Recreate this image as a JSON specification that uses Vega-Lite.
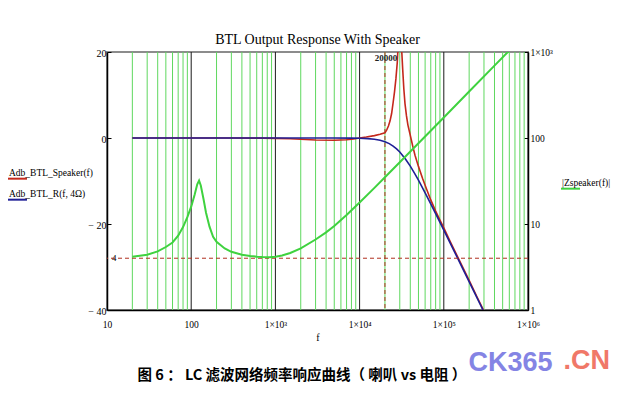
{
  "$schema": "https://vega.github.io/schema/vega-lite/v6.json",
  "width": 421,
  "height": 258,
  "autosize": {"type": "none"},
  "padding": {"left": 107, "top": 52, "right": 97, "bottom": 89},
  "background": "white",
  "title": {"text": "BTL Output Response With Speaker", "font": "Liberation Serif", "fontSize": 14, "fontWeight": "normal", "color": "#000", "anchor": "middle", "frame": "group", "baseline": "alphabetic", "offset": 9, "dy": 20},
  "config": {
    "view": {"stroke": "#8c8c8c", "strokeWidth": 2},
    "axis": {"labelFont": "Liberation Serif", "labelColor": "#000", "titleColor": "#000", "domainColor": "#000", "tickColor": "#000", "grid": false}
  },
  "datasets": {
    "minor": [{"f":20},{"f":30},{"f":40},{"f":50},{"f":60},{"f":70},{"f":80},{"f":90},
      {"f":200},{"f":300},{"f":400},{"f":500},{"f":600},{"f":700},{"f":800},{"f":900},
      {"f":2000},{"f":3000},{"f":4000},{"f":5000},{"f":6000},{"f":7000},{"f":8000},{"f":9000},
      {"f":20000},{"f":30000},{"f":40000},{"f":50000},{"f":60000},{"f":70000},{"f":80000},{"f":90000},
      {"f":200000},{"f":300000},{"f":400000},{"f":500000},{"f":600000},{"f":700000},{"f":800000},{"f":900000}],
    "major": [{"f":100},{"f":1000},{"f":10000},{"f":100000}],
    "amp": [
      {"series":"Adb_BTL_Speaker(f)","f":20,"db":0},
      {"series":"Adb_BTL_Speaker(f)","f":100,"db":0},
      {"series":"Adb_BTL_Speaker(f)","f":300,"db":0},
      {"series":"Adb_BTL_Speaker(f)","f":700,"db":-0.03},
      {"series":"Adb_BTL_Speaker(f)","f":1000,"db":-0.08},
      {"series":"Adb_BTL_Speaker(f)","f":1500,"db":-0.18},
      {"series":"Adb_BTL_Speaker(f)","f":2000,"db":-0.3},
      {"series":"Adb_BTL_Speaker(f)","f":3000,"db":-0.45},
      {"series":"Adb_BTL_Speaker(f)","f":5000,"db":-0.52},
      {"series":"Adb_BTL_Speaker(f)","f":7000,"db":-0.42},
      {"series":"Adb_BTL_Speaker(f)","f":8500,"db":-0.22},
      {"series":"Adb_BTL_Speaker(f)","f":10000,"db":0},
      {"series":"Adb_BTL_Speaker(f)","f":12000,"db":0.22},
      {"series":"Adb_BTL_Speaker(f)","f":15000,"db":0.55},
      {"series":"Adb_BTL_Speaker(f)","f":17500,"db":0.85},
      {"series":"Adb_BTL_Speaker(f)","f":20000,"db":1.2},
      {"series":"Adb_BTL_Speaker(f)","f":21000,"db":1.9},
      {"series":"Adb_BTL_Speaker(f)","f":22000,"db":2.8},
      {"series":"Adb_BTL_Speaker(f)","f":23000,"db":4.0},
      {"series":"Adb_BTL_Speaker(f)","f":24000,"db":5.7},
      {"series":"Adb_BTL_Speaker(f)","f":25000,"db":8.2},
      {"series":"Adb_BTL_Speaker(f)","f":26000,"db":10.8},
      {"series":"Adb_BTL_Speaker(f)","f":27000,"db":13.8},
      {"series":"Adb_BTL_Speaker(f)","f":28000,"db":17.5},
      {"series":"Adb_BTL_Speaker(f)","f":28500,"db":20.5},
      {"series":"Adb_BTL_Speaker(f)","f":29000,"db":25},
      {"series":"Adb_BTL_Speaker(f)","f":29600,"db":30},
      {"series":"Adb_BTL_Speaker(f)","f":30300,"db":26},
      {"series":"Adb_BTL_Speaker(f)","f":31000,"db":22.5},
      {"series":"Adb_BTL_Speaker(f)","f":31800,"db":19.5},
      {"series":"Adb_BTL_Speaker(f)","f":32500,"db":16},
      {"series":"Adb_BTL_Speaker(f)","f":33500,"db":11.5},
      {"series":"Adb_BTL_Speaker(f)","f":34600,"db":8},
      {"series":"Adb_BTL_Speaker(f)","f":36000,"db":5.2},
      {"series":"Adb_BTL_Speaker(f)","f":37500,"db":3.0},
      {"series":"Adb_BTL_Speaker(f)","f":39600,"db":1.0},
      {"series":"Adb_BTL_Speaker(f)","f":42900,"db":-2.0},
      {"series":"Adb_BTL_Speaker(f)","f":45500,"db":-4.0},
      {"series":"Adb_BTL_Speaker(f)","f":50000,"db":-6.6},
      {"series":"Adb_BTL_Speaker(f)","f":56000,"db":-9.4},
      {"series":"Adb_BTL_Speaker(f)","f":63000,"db":-12.1},
      {"series":"Adb_BTL_Speaker(f)","f":70000,"db":-14.4},
      {"series":"Adb_BTL_Speaker(f)","f":80000,"db":-17.0},
      {"series":"Adb_BTL_Speaker(f)","f":90000,"db":-19.1},
      {"series":"Adb_BTL_Speaker(f)","f":100000,"db":-20.9},
      {"series":"Adb_BTL_Speaker(f)","f":120000,"db":-24.2},
      {"series":"Adb_BTL_Speaker(f)","f":150000,"db":-28.1},
      {"series":"Adb_BTL_Speaker(f)","f":200000,"db":-33.1},
      {"series":"Adb_BTL_Speaker(f)","f":250000,"db":-37.1},
      {"series":"Adb_BTL_Speaker(f)","f":292000,"db":-39.8},
      {"series":"Adb_BTL_Speaker(f)","f":310000,"db":-41},
      {"series":"Adb_BTL_R(f, 4Ω)","f":20,"db":0},
      {"series":"Adb_BTL_R(f, 4Ω)","f":1000,"db":0},
      {"series":"Adb_BTL_R(f, 4Ω)","f":5000,"db":0},
      {"series":"Adb_BTL_R(f, 4Ω)","f":8000,"db":-0.03},
      {"series":"Adb_BTL_R(f, 4Ω)","f":10000,"db":-0.06},
      {"series":"Adb_BTL_R(f, 4Ω)","f":12500,"db":-0.14},
      {"series":"Adb_BTL_R(f, 4Ω)","f":15000,"db":-0.29},
      {"series":"Adb_BTL_R(f, 4Ω)","f":17500,"db":-0.53},
      {"series":"Adb_BTL_R(f, 4Ω)","f":20000,"db":-0.86},
      {"series":"Adb_BTL_R(f, 4Ω)","f":22500,"db":-1.31},
      {"series":"Adb_BTL_R(f, 4Ω)","f":25000,"db":-1.87},
      {"series":"Adb_BTL_R(f, 4Ω)","f":27500,"db":-2.52},
      {"series":"Adb_BTL_R(f, 4Ω)","f":30000,"db":-3.25},
      {"series":"Adb_BTL_R(f, 4Ω)","f":35000,"db":-4.87},
      {"series":"Adb_BTL_R(f, 4Ω)","f":40000,"db":-6.55},
      {"series":"Adb_BTL_R(f, 4Ω)","f":45000,"db":-8.22},
      {"series":"Adb_BTL_R(f, 4Ω)","f":50000,"db":-9.82},
      {"series":"Adb_BTL_R(f, 4Ω)","f":60000,"db":-12.74},
      {"series":"Adb_BTL_R(f, 4Ω)","f":70000,"db":-15.31},
      {"series":"Adb_BTL_R(f, 4Ω)","f":80000,"db":-17.59},
      {"series":"Adb_BTL_R(f, 4Ω)","f":100000,"db":-21.42},
      {"series":"Adb_BTL_R(f, 4Ω)","f":130000,"db":-25.95},
      {"series":"Adb_BTL_R(f, 4Ω)","f":170000,"db":-30.6},
      {"series":"Adb_BTL_R(f, 4Ω)","f":220000,"db":-35.08},
      {"series":"Adb_BTL_R(f, 4Ω)","f":292000,"db":-40.0},
      {"series":"Adb_BTL_R(f, 4Ω)","f":310000,"db":-41.0}
    ],
    "imp": [
      {"series":"|Zspeaker(f)|","f":20,"z":4.15},
      {"series":"|Zspeaker(f)|","f":30,"z":4.4},
      {"series":"|Zspeaker(f)|","f":40,"z":4.8},
      {"series":"|Zspeaker(f)|","f":50,"z":5.4},
      {"series":"|Zspeaker(f)|","f":60,"z":6.1},
      {"series":"|Zspeaker(f)|","f":70,"z":7.3},
      {"series":"|Zspeaker(f)|","f":80,"z":9.2},
      {"series":"|Zspeaker(f)|","f":90,"z":12.0},
      {"series":"|Zspeaker(f)|","f":100,"z":15.9},
      {"series":"|Zspeaker(f)|","f":110,"z":22},
      {"series":"|Zspeaker(f)|","f":118,"z":29},
      {"series":"|Zspeaker(f)|","f":124,"z":32},
      {"series":"|Zspeaker(f)|","f":130,"z":28},
      {"series":"|Zspeaker(f)|","f":140,"z":19.5},
      {"series":"|Zspeaker(f)|","f":150,"z":13.5},
      {"series":"|Zspeaker(f)|","f":165,"z":9.3},
      {"series":"|Zspeaker(f)|","f":182,"z":7.1},
      {"series":"|Zspeaker(f)|","f":200,"z":6.2},
      {"series":"|Zspeaker(f)|","f":250,"z":5.2},
      {"series":"|Zspeaker(f)|","f":300,"z":4.75},
      {"series":"|Zspeaker(f)|","f":400,"z":4.4},
      {"series":"|Zspeaker(f)|","f":500,"z":4.25},
      {"series":"|Zspeaker(f)|","f":600,"z":4.17},
      {"series":"|Zspeaker(f)|","f":700,"z":4.12},
      {"series":"|Zspeaker(f)|","f":850,"z":4.1},
      {"series":"|Zspeaker(f)|","f":1000,"z":4.15},
      {"series":"|Zspeaker(f)|","f":1200,"z":4.3},
      {"series":"|Zspeaker(f)|","f":1500,"z":4.6},
      {"series":"|Zspeaker(f)|","f":2000,"z":5.2},
      {"series":"|Zspeaker(f)|","f":3000,"z":6.6},
      {"series":"|Zspeaker(f)|","f":4000,"z":8.0},
      {"series":"|Zspeaker(f)|","f":5000,"z":9.5},
      {"series":"|Zspeaker(f)|","f":7000,"z":12.7},
      {"series":"|Zspeaker(f)|","f":10000,"z":17.8},
      {"series":"|Zspeaker(f)|","f":15000,"z":26.3},
      {"series":"|Zspeaker(f)|","f":20000,"z":34.9},
      {"series":"|Zspeaker(f)|","f":30000,"z":52.2},
      {"series":"|Zspeaker(f)|","f":50000,"z":86.8},
      {"series":"|Zspeaker(f)|","f":100000,"z":173},
      {"series":"|Zspeaker(f)|","f":200000,"z":347},
      {"series":"|Zspeaker(f)|","f":400000,"z":694},
      {"series":"|Zspeaker(f)|","f":700000,"z":1214}
    ]
  },
  "layer": [
    {
      "layer": [
        {
          "data": {"name": "minor"},
          "mark": {"type": "rule", "color": "#5fd85f", "strokeWidth": 1},
          "encoding": {
            "x": {"field": "f", "type": "quantitative", "scale": {"type": "log", "domain": [10, 1000000]},
              "axis": {"values": [10, 100, 1000, 10000, 100000, 1000000],
                "labelExpr": "datum.value == 10 ? '10' : datum.value == 100 ? '100' : datum.value == 1000 ? '1×10³' : datum.value == 10000 ? '1×10⁴' : datum.value == 100000 ? '1×10⁵' : '1×10⁶'",
                "ticks": false, "domainWidth": 1.5, "labelFontSize": 9.5, "labelPadding": 9, "labelFlush": false, "labelOverlap": false,
                "title": "f", "titleFont": "Liberation Serif", "titleFontSize": 10, "titleFontWeight": "normal", "titlePadding": 4}}
          }
        },
        {
          "data": {"name": "major"},
          "mark": {"type": "rule", "color": "#1a1a1a", "strokeWidth": 1},
          "encoding": {"x": {"field": "f", "type": "quantitative"}}
        },
        {
          "data": {"values": [{"f": 20000}]},
          "mark": {"type": "rule", "color": "#b0301f", "strokeWidth": 1, "strokeDash": [4, 3]},
          "encoding": {"x": {"field": "f", "type": "quantitative"}}
        },
        {
          "data": {"name": "amp"},
          "mark": {"type": "line", "clip": true, "strokeWidth": 1.6},
          "encoding": {
            "x": {"field": "f", "type": "quantitative"},
            "y": {"field": "db", "type": "quantitative", "scale": {"domain": [-40, 20], "nice": false, "zero": false},
              "axis": {"values": [-40, -20, 0, 20],
                "labelExpr": "datum.value < 0 ? '− ' + abs(datum.value) : datum.label",
                "tickSize": -4, "labelPadding": 5, "domainWidth": 1.5, "labelFontSize": 10, "labelOffset": 1.5,
                "title": "图 6 ： LC 滤波网络频率响应曲线（ 喇叭 vs 电阻 ）", "titleAngle": 0, "titleX": 30, "titleY": 323,
                "titleAlign": "left", "titleBaseline": "middle", "titleFont": "Noto Sans CJK SC", "titleFontSize": 14.5,
                "titleFontWeight": "bold", "titleLimit": 0}},
            "color": {"field": "series", "type": "nominal",
              "scale": {"domain": ["Adb_BTL_Speaker(f)", "Adb_BTL_R(f, 4Ω)"], "range": ["#c4281c", "#1f1f96"]},
              "legend": {"orient": "none", "legendX": -100, "legendY": 110, "title": null,
                "symbolType": "M-1,0.65L1,0.65", "symbolSize": 361, "symbolStrokeWidth": 2,
                "labelOffset": -19, "labelFont": "Liberation Serif", "labelFontSize": 9.5, "labelColor": "#000",
                "rowPadding": 0, "padding": 0}}
          }
        },
        {
          "data": {"values": [{"f": 20000, "db": 20, "label": "20000"}]},
          "mark": {"type": "text", "font": "Liberation Serif", "fontSize": 9, "fontWeight": "bold", "color": "#222", "baseline": "top", "align": "center", "dy": 2, "dx": 1},
          "encoding": {"x": {"field": "f", "type": "quantitative"}, "y": {"field": "db", "type": "quantitative"}, "text": {"field": "label"}}
        }
      ]
    },
    {
      "layer": [
        {
          "data": {"values": [{"z": 4}]},
          "mark": {"type": "rule", "color": "#b0301f", "strokeWidth": 1, "strokeDash": [4, 3]},
          "encoding": {
            "y": {"field": "z", "type": "quantitative", "scale": {"type": "log", "domain": [1, 1000]},
              "axis": {"orient": "right", "values": [1, 10, 100, 1000],
                "labelExpr": "datum.value == 1000 ? '1×10³' : datum.label",
                "tickSize": -4, "labelPadding": 6, "domainWidth": 1.5, "labelFontSize": 9.5,
                "title": "CK365", "titleAngle": 0, "titleX": -60, "titleY": 310, "titleAlign": "left", "titleBaseline": "middle",
                "titleFont": "'Liberation Sans Narrow', 'Liberation Sans', sans-serif", "titleFontSize": 27, "titleFontWeight": "bold",
                "titleColor": "#8484e4", "titleLimit": 0}}
          }
        },
        {
          "data": {"name": "imp"},
          "mark": {"type": "line", "clip": true, "strokeWidth": 2},
          "encoding": {
            "x": {"field": "f", "type": "quantitative"},
            "y": {"field": "z", "type": "quantitative"},
            "color": {"field": "series", "type": "nominal",
              "scale": {"domain": ["|Zspeaker(f)|"], "range": ["#3fd23f"]},
              "legend": {"orient": "none", "legendX": 453, "legendY": 120,
                "title": ".CN", "titleOrient": "bottom", "titlePadding": 155, "titleAnchor": "end",
                "titleFont": "'Liberation Sans Narrow', 'Liberation Sans', sans-serif", "titleFontSize": 27, "titleFontWeight": "bold",
                "titleColor": "#f07868", "titleLimit": 0,
                "symbolType": "M-1,0.65L1,0.65", "symbolSize": 361, "symbolStrokeWidth": 2,
                "labelOffset": -19, "labelFont": "Liberation Serif", "labelFontSize": 9.5, "labelColor": "#000", "padding": 0}}
          }
        },
        {
          "data": {"values": [{"f": 10, "z": 4, "label": "4"}]},
          "mark": {"type": "text", "font": "Liberation Serif", "fontSize": 9, "color": "#000", "baseline": "middle", "align": "left", "dx": 5},
          "encoding": {"x": {"field": "f", "type": "quantitative"}, "y": {"field": "z", "type": "quantitative"}, "text": {"field": "label"}}
        }
      ]
    }
  ],
  "resolve": {"scale": {"y": "independent", "color": "independent"}}
}
